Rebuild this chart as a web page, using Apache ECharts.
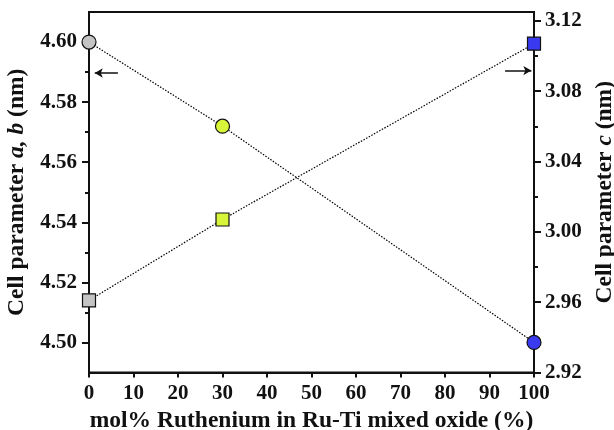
<!DOCTYPE html>
<html>
<head>
<meta charset="utf-8">
<script src="https://cdn.jsdelivr.net/npm/echarts@6/dist/echarts.min.js"></script>
<style>html,body{margin:0;padding:0;background:#fff;}#c{width:614px;height:430px;}</style>
</head>
<body>
<div id="c"></div>
<script>
var ruPercent = [0, 30, 100];
var cellAB = [4.600, 4.572, 4.500];
var cellC = [2.961, 3.007, 3.107];
var pointColors = ['#c4c4c4', '#d8f53a', '#3a3af0'];
var xTicks = [0, 10, 20, 30, 40, 50, 60, 70, 80, 90, 100];
var abTicks = [4.50, 4.52, 4.54, 4.56, 4.58, 4.60];
var abMinor = [4.51, 4.53, 4.55, 4.57, 4.59];
var cTicks = [2.92, 2.96, 3.00, 3.04, 3.08, 3.12];
var cMinor = [2.94, 2.98, 3.02, 3.06, 3.10];
var abArrow = [[6.5, 4.5897], [1.3, 4.5897]];
var cArrow = [[93.5, 3.0917], [99.4, 3.0917]];

var FONT = "'Liberation Serif','Times New Roman',serif";
var chart = echarts.init(document.getElementById('c'), null, {renderer: 'canvas'});

function pts(ys) {
  return ruPercent.map(function (x, i) {
    return {value: [x, ys[i]], itemStyle: {color: pointColors[i]}};
  });
}
var lbl = {fontFamily: FONT, fontWeight: 'bold', fontSize: 21, color: '#111'};
var axLine = {show: true, lineStyle: {color: '#111', width: 2}};
var TS = 23.5;
function richStyle() {
  return {rich: {
    n: {fontFamily: FONT, fontWeight: 'bold', fontSize: TS, color: '#111'},
    i: {fontFamily: FONT, fontWeight: 'bold', fontStyle: 'italic', fontSize: TS, color: '#111'}
  }};
}

var option = {
  animation: false,
  grid: {left: 89, right: 80, top: 12, bottom: 57.5, outerBoundsMode: 'none', containLabel: false,
         show: true, borderColor: '#111', borderWidth: 2, backgroundColor: 'transparent'},
  xAxis: {
    type: 'value', min: 0, max: 100, interval: 10,
    axisLine: axLine,
    axisTick: {show: true, inside: false, length: 5, lineStyle: {color: '#111', width: 2}, customValues: xTicks},
    axisLabel: Object.assign({margin: 11, customValues: xTicks}, lbl),
    splitLine: {show: false},
    name: 'mol% Ruthenium in Ru-Ti mixed oxide (%)',
    nameLocation: 'middle', nameGap: 36,
    nameTextStyle: {fontFamily: FONT, fontWeight: 'bold', fontSize: TS, color: '#111'}
  },
  yAxis: [
    {
      type: 'value', position: 'left', min: 4.49, max: 4.61, interval: 0.01,
      axisLine: axLine,
      axisTick: {show: true, length: 7, lineStyle: {color: '#111', width: 2}, customValues: abTicks},
      axisLabel: Object.assign({margin: 12, customValues: abTicks, formatter: function (v) { return v.toFixed(2); }}, lbl),
      splitLine: {show: false},
      name: '{n|Cell parameter }{i|a, b}{n| (nm)}',
      nameLocation: 'middle', nameGap: 55, nameRotate: 90,
      nameTextStyle: richStyle()
    },
    {
      type: 'value', position: 'right', min: 2.92, max: 3.125, interval: 0.04,
      axisLine: axLine,
      axisTick: {show: true, length: 7, lineStyle: {color: '#111', width: 2}, customValues: cTicks},
      axisLabel: Object.assign({margin: 11, customValues: cTicks, formatter: function (v) { return v.toFixed(2); }}, lbl),
      splitLine: {show: false},
      name: '{n|Cell parameter }{i|c}{n| (nm)}',
      nameLocation: 'middle', nameGap: 55, nameRotate: 90,
      nameTextStyle: richStyle()
    },
    {
      type: 'value', position: 'left', offset: 0, min: 4.49, max: 4.61, interval: 0.01,
      axisLine: {show: false},
      axisTick: {show: true, length: 4, lineStyle: {color: '#111', width: 2}, customValues: abMinor},
      axisLabel: {show: false},
      splitLine: {show: false}
    },
    {
      type: 'value', position: 'right', offset: 0, min: 2.92, max: 3.125, interval: 0.04,
      axisLine: {show: false},
      axisTick: {show: true, length: 4, lineStyle: {color: '#111', width: 2}, customValues: cMinor},
      axisLabel: {show: false},
      splitLine: {show: false}
    }
  ],
  series: [
    {
      name: 'a,b', type: 'line', yAxisIndex: 0,
      data: pts(cellAB),
      symbol: 'circle', symbolSize: 14,
      lineStyle: {color: '#000', width: 1.2, type: [1.5, 1.5]},
      itemStyle: {borderColor: '#111', borderWidth: 1.2},
      z: 3,
      markLine: {
        silent: true, symbol: ['none', 'arrow'], symbolSize: [7, 8],
        label: {show: false},
        lineStyle: {color: '#111', width: 1.5, type: 'solid'},
        data: [[{coord: abArrow[0]}, {coord: abArrow[1]}]]
      }
    },
    {
      name: 'c', type: 'line', yAxisIndex: 1,
      data: pts(cellC),
      symbol: 'rect', symbolSize: 13,
      lineStyle: {color: '#000', width: 1.2, type: [1.5, 1.5]},
      itemStyle: {borderColor: '#111', borderWidth: 1.2},
      z: 3,
      markLine: {
        silent: true, symbol: ['none', 'arrow'], symbolSize: [7, 8],
        label: {show: false},
        lineStyle: {color: '#111', width: 1.5, type: 'solid'},
        data: [[{coord: cArrow[0]}, {coord: cArrow[1]}]]
      }
    }
  ]
};
chart.setOption(option);
</script>
</body>
</html>
